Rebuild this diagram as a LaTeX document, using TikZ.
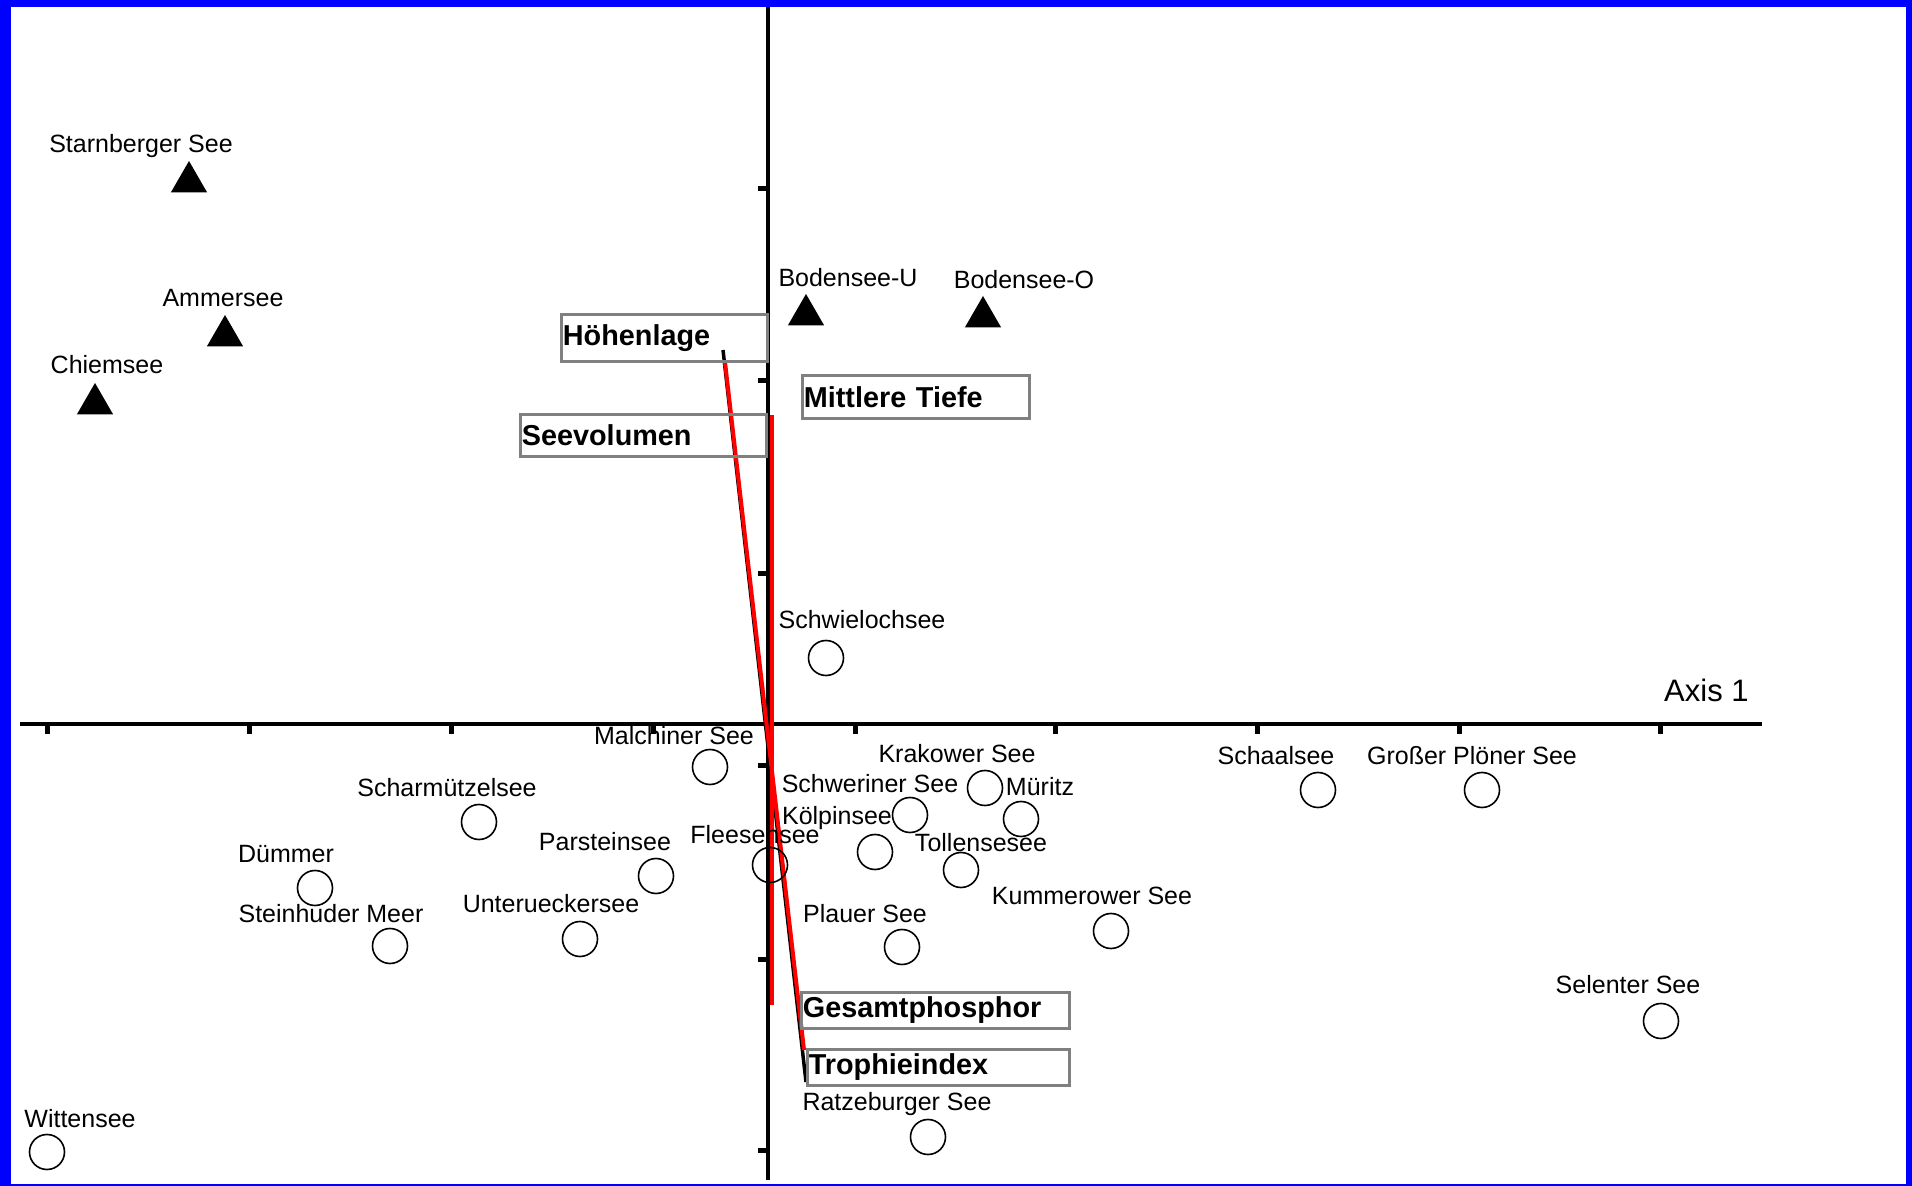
\documentclass[tikz,border=0pt]{standalone}
\usepackage{fontspec}
\setmainfont{Liberation Sans}
\usepackage{tikz}
\usetikzlibrary{shapes.geometric}
\tikzset{
  kreis/.style={circle,draw,line width=0.8pt,minimum size=17.5pt,inner sep=0pt},
  dreieck/.style={regular polygon,regular polygon sides=3,fill,minimum size=21pt,inner sep=0pt},
  beschr/.style={anchor=base,inner sep=0pt,font=\fontsize{12.5}{15}\selectfont},
  kasten/.style={draw=gray,line width=1.4pt,anchor=north west,align=left,inner xsep=0.75pt,
                 inner ysep=0pt,font=\fontsize{14.4}{17}\selectfont\bfseries},
  achse/.style={line width=1.8pt},
  strich/.style={line width=2.5pt},
  vektor/.style={line width=1.75pt},
  rot/.style={red,line width=2pt},
}

\begin{document}
\begin{tikzpicture}[x=0.5pt,y=-0.5pt]
  % Rahmen
  \useasboundingbox (0,0) rectangle (1912,1186);
  \fill[blue] (0,0) rectangle (1912,1186);
  \fill[white] (11,7) rectangle (1906,1184);
  % Achsen
  \coordinate (xa) at (20,724); \coordinate (xe) at (1762,724);
  \coordinate (ya) at (768,7); \coordinate (ye) at (768,1180);
  \draw[achse] (xa) -- (xe);
  \draw[achse] (ya) -- (ye);
  \foreach \x in {47,249,451,653,855,1055,1257,1459,1660} \draw[strich] (\x,724) -- (\x,734);
  \foreach \y in {189,381,574,766,959,1150} \draw[strich] (758,\y) -- (768,\y);
  \node[beschr,anchor=base east,font=\fontsize{15.5}{18}\selectfont] (achse1) at (1749,702) {Axis 1};
  % Umweltvariablen
  \coordinate (hl) at (723,350); \coordinate (ti) at (806,1082);
  \coordinate (hl2) at (725,362); \coordinate (gp) at (804,1050);
  \coordinate (mt) at (772,415); \coordinate (sv) at (772,1005);
  \draw[vektor] (hl) -- (ti);
  \draw[rot] (hl2) -- (gp);
  \draw[rot] (mt) -- (sv);
  \node[kasten,text width=101.5pt,minimum height=23.5pt] (hoehe) at (560,313) {Höhenlage};
  \node[kasten,text width=112pt,minimum height=21.5pt] (tiefe) at (801,374) {Mittlere Tiefe};
  \node[kasten,text width=121.5pt,minimum height=21pt] (volumen) at (519,413) {Seevolumen};
  \node[kasten,text width=132.5pt,minimum height=18pt] (phosphor) at (800,991) {Gesamtphosphor};
  \node[kasten,text width=129.5pt,minimum height=18pt] (trophie) at (806,1048) {Trophieindex};
  % Voralpenseen
  \foreach \n/\x/\y/\lx/\ly/\t in {starn/189/182/141/153/Starnberger See,
      ammer/225/336/223/307/Ammersee, chiem/95/404/107/374/Chiemsee,
      bodu/806/315/848/287/Bodensee-U, bodo/983/317/1024/289/Bodensee-O}{
    \node[dreieck] (\n) at (\x,\y) {};
    \node[beschr] (\n-t) at (\lx,\ly) {\t};
  }
  % Tieflandseen
  \foreach \n/\x/\y/\lx/\ly/\t in {schwi/826/658/862/629/Schwielochsee,
      malch/710/767/674/745/Malchiner See, krak/985/788/957/763/Krakower See,
      schwer/910/815/870/793/Schweriner See, mue/1021/819/1040/796/Müritz,
      koel/875/852/837/825/Kölpinsee, flee/770/865/755/844/Fleesensee,
      toll/961/870/981/852/Tollensesee, kumm/1111/931/1092/905/Kummerower See,
      plau/902/947/865/922/Plauer See, ratz/928/1137/897/1110/Ratzeburger See,
      schaal/1318/790/1276/765/Schaalsee, ploen/1482/790/1472/765/Großer Plöner See,
      selent/1661/1021/1628/993/Selenter See, witt/47/1152/80/1127/Wittensee,
      scharm/479/822/447/797/Scharmützelsee, duem/315/888/286/863/Dümmer,
      stein/390/946/331/922/Steinhuder Meer, parst/656/876/605/851/Parsteinsee,
      unter/580/939/551/913/Unterueckersee}{
    \node[kreis] (\n) at (\x,\y) {};
    \node[beschr] (\n-t) at (\lx,\ly) {\t};
  }
\end{tikzpicture}
\end{document}
